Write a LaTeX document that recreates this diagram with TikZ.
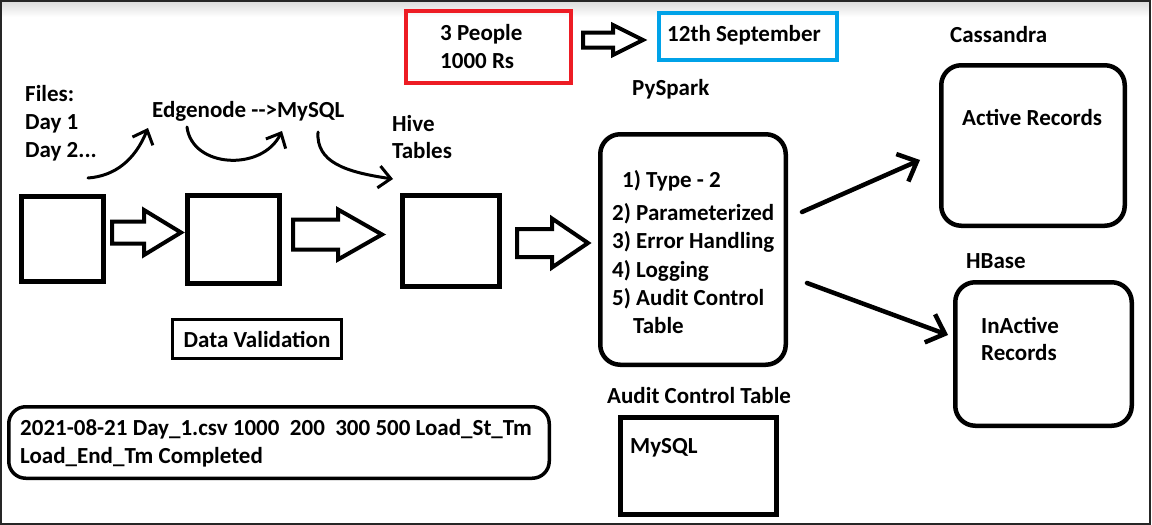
\documentclass[tikz,border=0pt]{standalone}
\usepackage{fontspec}
\setmainfont{Carlito}
\usepackage{tikz}
\usetikzlibrary{arrows.meta}
\definecolor{paintred}{HTML}{ED1C24}
\definecolor{paintblue}{HTML}{00A2E8}
\def\hollowarrow(#1,#2)(#3:#4:#5:#6){\draw[blockarrow] (#1,#2-#5) -- (#3,#2-#5) -- (#3,#2-#6) -- (#4,#2) -- (#3,#2+#6) -- (#3,#2+#5) -- (#1,#2+#5) -- cycle;}
\tikzset{
	lbl/.style={anchor=base west, inner sep=0pt, font=\fontsize{23}{28}\selectfont\bfseries},
	sqbox/.style={draw, line width=5pt, inner sep=0pt},
	roundbox/.style={draw, line width=4.5pt, rounded corners=20pt, inner sep=0pt},
	blockarrow/.style={line width=4pt, line join=miter},
	sketcharrow/.style={line width=3pt, line cap=round, -{Straight Barb[length=12pt,width=22pt]}},
	bigarrow/.style={line width=4.5pt, line cap=round, -{Straight Barb[length=16pt,width=30pt]}}
}

\begin{document}
\begin{tikzpicture}[x=1pt, y=-1pt]
			%%%%% FRAME %%%%%
			\useasboundingbox (0,0) rectangle (1152,525);
			\shade[top color=black!14, bottom color=white] (1,1) rectangle (1150,17);
			\draw[line width=2pt, black!85] (1,1) rectangle (1150,524);
			
			%%%%% TOP %%%%%
			\node[draw=paintred, line width=4pt, minimum width=165pt, minimum height=72pt, inner sep=0pt] (cost) at (488.5,47) {};
			\node[lbl] (people) at (440,40) {3 People};
			\node[lbl] (rupees) at (440,68) {1000 Rs};
			\hollowarrow(583,40)(613:643:7.5:15)
			\node[draw=paintblue, line width=4pt, minimum width=178pt, minimum height=47pt, inner sep=0pt] (datebox) at (748,36.5) {};
			\node[lbl] (date) at (667,41) {12th September};
			
			%%%%% INGEST %%%%%
			\node[lbl] (files) at (25,101) {Files:};
			\node[lbl] (day1) at (25,129) {Day 1};
			\node[lbl] (day2) at (25,157) {Day 2...};
			\node[lbl] (edgenode) at (152,117) {Edgenode -{}->MySQL};
			\node[lbl] (hive) at (392,131) {Hive};
			\node[lbl] (tables) at (392,158) {Tables};
			
			\coordinate (files_out) at (88,178);
			\coordinate (edge_in) at (148,128);
			\coordinate (edge_out) at (187,127);
			\coordinate (mysql_in) at (282,131);
			\coordinate (mysql_out) at (318,132);
			\coordinate (hive_in) at (393,179);
			\draw[sketcharrow] (files_out) .. controls (115,176) and (135,160) .. (edge_in);
			\draw[sketcharrow] (edge_out) .. controls (192,168) and (262,172) .. (mysql_in);
			\draw[sketcharrow] (mysql_out) .. controls (316,162) and (345,172) .. (hive_in);
			
			\node[sqbox, minimum width=82pt, minimum height=85pt] (box1) at (62.5,239) {};
			\hollowarrow(112,232.5)(144:181:11:22.5)
			\node[sqbox, minimum width=92pt, minimum height=88pt] (box2) at (233.5,239.5) {};
			\hollowarrow(293,234.5)(338:382:15:25)
			\node[sqbox, minimum width=97pt, minimum height=91pt] (box3) at (451,241) {};
			\hollowarrow(517,243)(552:588:14:24.5)
			
			\node[draw, line width=3pt, minimum width=169pt, minimum height=39pt, inner sep=0pt, font=\fontsize{23}{28}\selectfont\bfseries] (validation) at (257,339) {Data Validation};
			
			%%%%% PYSPARK %%%%%
			\node[lbl] (pyspark) at (632,95) {PySpark};
			\node[roundbox, minimum width=185.5pt, minimum height=230.5pt] (sparkbox) at (693,249.5) {};
			\node[lbl] (type2) at (622,187) {1) Type - 2};
			\node[lbl] (param) at (612,220) {2) Parameterized};
			\node[lbl] (errors) at (612,248) {3) Error Handling};
			\node[lbl] (logging) at (612,277) {4) Logging};
			\node[lbl] (auditctl) at (612,305) {5) Audit Control};
			\node[lbl] (table) at (633,333) {Table};
			
			\node[lbl] (audit) at (607,403) {Audit Control Table};
			\node[sqbox, minimum width=156pt, minimum height=97pt] (auditbox) at (698.5,466) {};
			\node[lbl] (mysql) at (630,453) {MySQL};
			
			%%%%% SINKS %%%%%
			\node[lbl] (cassandra) at (950,42) {Cassandra};
			\node[roundbox, minimum width=183.5pt, minimum height=160.5pt] (activebox) at (1033,145.5) {};
			\node[lbl] (active) at (962,125) {Active Records};
			\node[lbl] (hbase) at (966,268) {HBase};
			\node[roundbox, minimum width=176.5pt, minimum height=143.5pt] (inactivebox) at (1043.5,354) {};
			\node[lbl] (inactive) at (981,333) {InActive};
			\node[lbl] (records) at (981,360) {Records};
			
			\coordinate (spark_out1) at (802,212);
			\coordinate (cass_in) at (920,160);
			\coordinate (spark_out2) at (807,283);
			\coordinate (hbase_in) at (948,335);
			\draw[bigarrow] (spark_out1) -- (cass_in);
			\draw[bigarrow] (spark_out2) -- (hbase_in);
			
			%%%%% LOG ROW %%%%%
			\node[draw, line width=3.5pt, rounded corners=17pt, minimum width=540.5pt, minimum height=71.5pt, inner sep=0pt] (logbox) at (279,442.5) {};
			\node[lbl] (logline1) at (20,435) {2021-08-21 Day\_1.csv 1000\ \ 200\ \ 300 500 Load\_St\_Tm};
			\node[lbl] (logline2) at (20,463) {Load\_End\_Tm Completed};
		\end{tikzpicture}
\end{document}
